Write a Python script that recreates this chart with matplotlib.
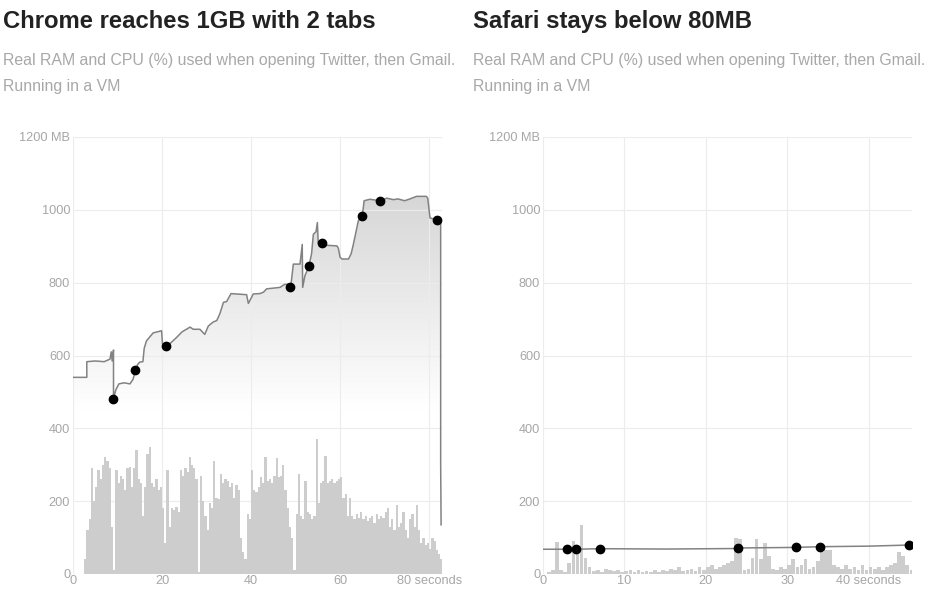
import matplotlib
matplotlib.use('Agg')
import matplotlib.pyplot as plt
import matplotlib.patches as patches
from matplotlib.colors import LinearSegmentedColormap
import numpy as np

from matplotlib import rcParams
rcParams['font.family'] = ['Liberation Sans', 'DejaVu Sans']

# ---- Chrome ----
chrome_ram_t = [0, 3.1, 3.1, 5, 7, 8.3, 8.6, 8.8, 9.1, 9.1, 9.6, 10.3, 11.5, 12.8, 13.5, 14.1,
                14.5, 15.0, 15.7, 16.0, 16.5, 18.0, 19.9, 20.1, 21.0, 22.0, 23.3, 24.5, 26.3,
                27.0, 28.5, 29.6, 30.4, 31.5, 32.3, 33.0, 33.8, 34.5, 35.5, 39.0, 39.4, 40.5,
                42.0, 42.8, 43.5, 45.0, 46.5, 47.5, 48.6, 48.9, 49.5, 51.0, 51.5, 51.6, 52.1,
                53.0, 53.6, 54.0, 54.6, 54.9, 55.1, 55.9, 56.5, 59.3, 59.6, 60.0, 60.4, 61.9,
                62.5, 63.0, 64.1, 65.0, 65.4, 66.7, 69.0, 70.5, 72.0, 73.0, 74.5, 75.7, 77.2,
                79.4, 79.7, 80.2, 81.0, 81.9, 82.6, 82.6, 82.7]
chrome_ram_mb = [540, 540, 583, 585, 583, 590, 610, 585, 615, 480, 505, 522, 525, 522, 535, 562,
                 575, 582, 583, 620, 640, 662, 668, 632, 625, 635, 650, 665, 678,
                 672, 672, 658, 681, 692, 696, 715, 746, 748, 770, 767, 743, 769,
                 770, 774, 783, 785, 787, 795, 796, 787, 851, 851, 905, 787, 819,
                 845, 880, 933, 940, 965, 908, 908, 903, 901, 895, 870, 865, 865,
                 880, 906, 970, 983, 1025, 1029, 1025, 1032, 1028, 1030, 1025, 1030, 1037,
                 1037, 1032, 978, 975, 972, 975, 300, 135]
chrome_dot_t = [9.0, 14.0, 20.9, 48.8, 53.0, 56.0, 64.9, 69.0, 81.8]
chrome_dot_mb = [480, 560, 626, 789, 846, 909, 984, 1025, 973]
chrome_cpu_t = np.arange(2.5, 83.0, 0.5)
chrome_cpu = [40, 120, 150, 290, 200, 240, 285, 260, 300, 320, 310, 290, 130, 10, 285, 250,
              270, 260, 230, 290, 295, 240, 290, 340, 260, 250, 160, 240, 330, 350, 250, 240,
              260, 230, 240, 180, 85, 285, 130, 180, 175, 185, 170, 285, 270, 290, 280, 320,
              300, 290, 260, 5, 270, 200, 160, 120, 195, 180, 310, 210, 205, 275, 250, 260,
              255, 240, 250, 210, 245, 230, 100, 60, 40, 165, 150, 285, 230, 225, 240, 265,
              250, 320, 255, 260, 250, 270, 318, 265, 270, 300, 230, 180, 130, 100, 10, 165,
              275, 160, 150, 255, 170, 165, 150, 160, 370, 195, 250, 255, 325, 250, 255, 260,
              250, 255, 260, 265, 210, 220, 160, 210, 160, 150, 165, 155, 170, 150, 160, 145,
              155, 160, 140, 165, 150, 160, 155, 170, 180, 130, 150, 120, 190, 130, 140, 170,
              120, 100, 150, 165, 130, 190, 120, 85, 100, 80, 85, 70, 100, 90, 65, 55, 40]

# ---- Safari ----
safari_ram_t = [0, 3.0, 4.0, 7.0, 15.0, 23.9, 24.1, 31.0, 34.0, 40.0, 44.9, 45.2]
safari_ram_mb = [68, 68, 68, 69.5, 68.5, 70, 71.5, 73, 75, 76.5, 79.5, 79.5]
safari_dot_t = [3.0, 4.0, 7.0, 24.0, 31.0, 34.0, 44.9]
safari_dot_mb = [68, 68, 69.5, 71, 73, 75, 79.5]
safari_cpu_t = np.arange(0, 45.5, 0.5)
safari_cpu = [0, 5, 12, 88, 12, 5, 30, 90, 55, 135, 45, 20, 8, 10, 6, 15, 12, 8, 10, 5,
              8, 12, 6, 10, 5, 8, 6, 10, 5, 12, 8, 15, 10, 18, 8, 12, 15, 8, 20, 12,
              18, 25, 15, 20, 25, 30, 35, 100, 95, 10, 15, 45, 95, 40, 85, 50, 15, 10, 20, 15,
              25, 40, 20, 25, 40, 15, 20, 35, 60, 65, 65, 25, 20, 15, 25, 15, 20, 10, 25, 12,
              20, 15, 18, 10, 20, 25, 30, 60, 50, 25, 10]

yticks = [0, 200, 400, 600, 800, 1000, 1200]
ytick_labels = ['0', '200', '400', '600', '800', '1000', '1200 MB']

tick_col = '#a6a6a6'
grid_col = '#ececec'
gray_cmap = LinearSegmentedColormap.from_list('g', ['#ffffff', '#d4d4d4'])


def draw_panel(ax, ram_t, ram_mb, dot_t, dot_mb, cpu_t, cpu, xmax, xticks, bar_w):
    # gradient under the RAM line, grid stays visible on top of it
    verts = list(zip(ram_t, ram_mb)) + [(ram_t[-1], 0), (ram_t[0], 0)]
    poly = patches.Polygon(verts, closed=True, fc='none', ec='none')
    ax.add_patch(poly)
    yy = np.linspace(0, 1200, 300)
    grad = np.clip((yy - 450) / (1080 - 450), 0, 1).reshape(-1, 1)
    img = ax.imshow(grad, extent=[0, xmax, 0, 1200], origin='lower', aspect='auto',
                    cmap=gray_cmap, vmin=0, vmax=1, zorder=0.2)
    img.set_clip_path(poly)

    ax.bar(cpu_t, cpu, width=bar_w, align='edge', color='#cdcdcd', linewidth=0, zorder=2)
    ax.plot(ram_t, ram_mb, color='#828282', lw=1.1, zorder=3)
    ax.plot(dot_t, dot_mb, 'o', color='black', ms=6, zorder=4)

    ax.set_xlim(0, xmax)
    ax.set_ylim(0, 1200)
    ax.set_yticks(yticks)
    ax.set_yticklabels(ytick_labels)
    ax.set_xticks(xticks)
    xl = [str(v) for v in xticks]
    xl[-1] = xl[-1] + ' seconds'
    ax.set_xticklabels(xl)
    ax.tick_params(length=0, colors=tick_col, labelsize=9.2)
    ax.tick_params(axis='y', pad=2)
    ax.tick_params(axis='x', pad=1)
    for s in ax.spines.values():
        s.set_visible(False)
    ax.grid(True, color=grid_col, lw=0.8)
    ax.set_axisbelow(True)


fig = plt.figure(figsize=(9.35, 5.94), dpi=100)
ax1 = fig.add_axes([73 / 935, 20 / 594, 369 / 935, 437 / 594])
ax2 = fig.add_axes([543 / 935, 20 / 594, 369 / 935, 437 / 594])

draw_panel(ax1, chrome_ram_t, chrome_ram_mb, chrome_dot_t, chrome_dot_mb,
           chrome_cpu_t, chrome_cpu, 82.9, [0, 20, 40, 60, 80], 0.5)
draw_panel(ax2, safari_ram_t, safari_ram_mb, safari_dot_t, safari_dot_mb,
           safari_cpu_t, safari_cpu, 45.3, [0, 10, 20, 30, 40], 0.45)

sub1 = 'Real RAM and CPU (%) used when opening Twitter, then Gmail.'
sub2 = 'Running in a VM'
for x0, title in [(3, 'Chrome reaches 1GB with 2 tabs'), (473, 'Safari stays below 80MB')]:
    fig.text(x0 / 935, 1 - 28 / 594, title, fontsize=17.2, fontweight='bold', color='#222222', va='baseline')
    fig.text(x0 / 935, 1 - 65 / 594, sub1, fontsize=11.4, color='#a8a8a8', va='baseline')
    fig.text(x0 / 935, 1 - 91 / 594, sub2, fontsize=11.4, color='#a8a8a8', va='baseline')

plt.savefig('out.png', dpi=100)
